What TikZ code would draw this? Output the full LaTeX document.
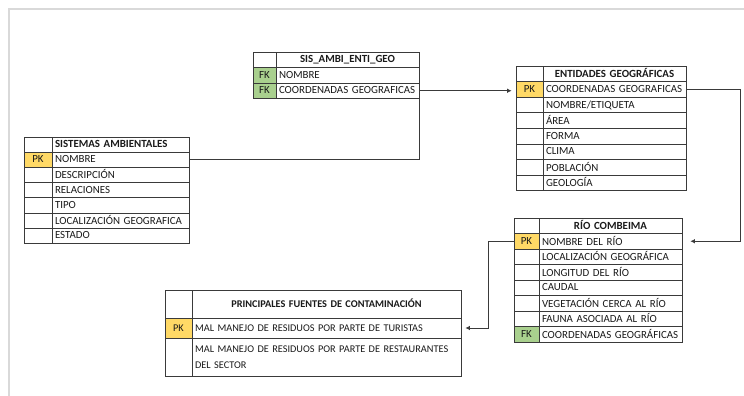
\documentclass[tikz,border=0pt]{standalone}
\usepackage{fontspec}
\setmainfont{Carlito}
\usetikzlibrary{arrows.meta}
\definecolor{pkc}{HTML}{FFD966}
\definecolor{fkc}{HTML}{A9D08E}
\definecolor{linec}{HTML}{3A3A3A}
\definecolor{txtc}{HTML}{1A1A1A}
\definecolor{framec}{HTML}{D9D9D9}
\newcommand\fieldfont{\fontsize{10.9}{16}\selectfont}
\newcommand\smallfieldfont{\fontsize{10.3}{16}\selectfont}
\newcommand\cellstrut{\rule[-1.5pt]{0pt}{9pt}}
\newcommand\tcell[7]{%
  \pgfmathsetmacro\tcW{#4-#2}\pgfmathsetmacro\tcH{#5-#3}\pgfmathsetmacro\tcT{#4-#2-6}%
  \pgfmathsetmacro\tcX{(#2+#4)/2}\pgfmathsetmacro\tcY{(#3+#5)/2}%
  \node[cellbase,#6,minimum width=\tcW pt,minimum height=\tcH pt,text width=\tcT pt] (#1) at (\tcX,\tcY) {\cellstrut#7};}
\tikzset{
  cellbase/.style={draw=linec, line width=0.7pt, inner xsep=3pt, inner ysep=0pt,
    font=\fieldfont, text=txtc, align=left},
  hdr/.style={font=\fieldfont\bfseries, align=center},
  hdrl/.style={font=\fieldfont\bfseries, align=left},
  keyc/.style={align=center},
  pk/.style={fill=pkc, align=center},
  fk/.style={fill=fkc, align=center},
  sm/.style={font=\smallfieldfont},
  smhdr/.style={font=\smallfieldfont\bfseries, align=center},
  conn/.style={draw=linec, line width=0.8pt},
  arr/.style={conn, -{Latex[length=4.5pt,width=4.5pt]}}
}
\begin{document}
\begin{tikzpicture}[x=1pt,y=-1pt]
\useasboundingbox (0,0) rectangle (744,396);
\fill[white] (0,0) rectangle (744,396);
\draw[framec, line width=2pt] (8.5,396) -- (8.5,9.5) -- (744,9.5);

% SIS_AMBI_ENTI_GEO
\tcell{sisHk}{253}{52}{276}{67.5}{keyc}{}
\tcell{sisH}{276}{52}{419}{67.5}{hdr}{SIS\_AMBI\_ENTI\_GEO}
\tcell{sisK1}{253}{67.5}{276}{83}{fk}{FK}
\tcell{sisF1}{276}{67.5}{419}{83}{}{NOMBRE}
\tcell{sisK2}{253}{83}{276}{98.5}{fk}{FK}
\tcell{sisF2}{276}{83}{419}{98.5}{}{COORDENADAS GEOGRAFICAS}

% ENTIDADES GEOGRAFICAS
\tcell{entHk}{516}{66}{543}{81.6}{keyc}{}
\tcell{entH}{543}{66}{686}{81.6}{hdr}{ENTIDADES GEOGRÁFICAS}
\tcell{entK1}{516}{81.6}{543}{97.2}{pk}{PK}
\tcell{entF1}{543}{81.6}{686}{97.2}{}{COORDENADAS GEOGRAFICAS}
\tcell{entK2}{516}{97.2}{543}{112.8}{keyc}{}
\tcell{entF2}{543}{97.2}{686}{112.8}{}{NOMBRE/ETIQUETA}
\tcell{entK3}{516}{112.8}{543}{128.4}{keyc}{}
\tcell{entF3}{543}{112.8}{686}{128.4}{}{ÁREA}
\tcell{entK4}{516}{128.4}{543}{144}{keyc}{}
\tcell{entF4}{543}{128.4}{686}{144}{}{FORMA}
\tcell{entK5}{516}{144}{543}{159.6}{keyc}{}
\tcell{entF5}{543}{144}{686}{159.6}{}{CLIMA}
\tcell{entK6}{516}{159.6}{543}{175.2}{keyc}{}
\tcell{entF6}{543}{159.6}{686}{175.2}{}{POBLACIÓN}
\tcell{entK7}{516}{175.2}{543}{190.8}{keyc}{}
\tcell{entF7}{543}{175.2}{686}{190.8}{}{GEOLOGÍA}

% SISTEMAS AMBIENTALES
\tcell{sysHk}{24}{137}{52}{152.2}{keyc}{}
\tcell{sysH}{52}{137}{189}{152.2}{hdrl}{SISTEMAS AMBIENTALES}
\tcell{sysK1}{24}{152.2}{52}{167.4}{pk}{PK}
\tcell{sysF1}{52}{152.2}{189}{167.4}{}{NOMBRE}
\tcell{sysK2}{24}{167.4}{52}{182.6}{keyc}{}
\tcell{sysF2}{52}{167.4}{189}{182.6}{}{DESCRIPCIÓN}
\tcell{sysK3}{24}{182.6}{52}{197.8}{keyc}{}
\tcell{sysF3}{52}{182.6}{189}{197.8}{}{RELACIONES}
\tcell{sysK4}{24}{197.8}{52}{213}{keyc}{}
\tcell{sysF4}{52}{197.8}{189}{213}{}{TIPO}
\tcell{sysK5}{24}{213}{52}{228.2}{keyc}{}
\tcell{sysF5}{52}{213}{189}{228.2}{}{LOCALIZACIÓN GEOGRAFICA}
\tcell{sysK6}{24}{228.2}{52}{243.4}{keyc}{}
\tcell{sysF6}{52}{228.2}{189}{243.4}{}{ESTADO}

% RIO COMBEIMA
\tcell{rioHk}{514}{218}{539}{233.5}{keyc}{}
\tcell{rioH}{539}{218}{682}{233.5}{hdr}{RÍO COMBEIMA}
\tcell{rioK1}{514}{233.5}{539}{249}{pk}{PK}
\tcell{rioF1}{539}{233.5}{682}{249}{}{NOMBRE DEL RÍO}
\tcell{rioK2}{514}{249}{539}{264.5}{keyc}{}
\tcell{rioF2}{539}{249}{682}{264.5}{}{LOCALIZACIÓN GEOGRÁFICA}
\tcell{rioK3}{514}{264.5}{539}{280}{keyc}{}
\tcell{rioF3}{539}{264.5}{682}{280}{}{LONGITUD DEL RÍO}
\tcell{rioK4}{514}{280}{539}{295.5}{keyc}{}
\tcell{rioF4}{539}{280}{682}{295.5}{}{CAUDAL}
\tcell{rioK5}{514}{295.5}{539}{311}{keyc}{}
\tcell{rioF5}{539}{295.5}{682}{311}{}{VEGETACIÓN CERCA AL RÍO}
\tcell{rioK6}{514}{311}{539}{326.5}{keyc}{}
\tcell{rioF6}{539}{311}{682}{326.5}{}{FAUNA ASOCIADA AL RÍO}
\tcell{rioK7}{514}{326.5}{539}{342}{fk}{FK}
\tcell{rioF7}{539}{326.5}{682}{342}{}{COORDENADAS GEOGRÁFICAS}

% PRINCIPALES FUENTES DE CONTAMINACION
\tcell{prHk}{165}{290}{192}{318}{keyc}{}
\tcell{prH}{192}{290}{461}{318}{smhdr}{PRINCIPALES FUENTES DE CONTAMINACIÓN}
\tcell{prK1}{165}{318}{192}{338}{pk,sm}{PK}
\tcell{prF1}{192}{318}{461}{338}{sm}{MAL MANEJO DE RESIDUOS POR PARTE DE TURISTAS}
\tcell{prK2}{165}{338}{192}{376}{keyc}{}
\tcell{prF2}{192}{338}{461}{376}{sm}{\mbox{MAL MANEJO DE RESIDUOS POR PARTE DE RESTAURANTES}\\DEL SECTOR}

% connectors
\coordinate (rightrail) at (740,0);
\coordinate (leftrail) at (488,0);
\draw[arr] (sisF2.east) -- ([xshift=-4pt]sisF2.east -| entK1.west);
\draw[conn] (sisF2.south east) |- (sysF1.east);
\draw[arr] (entF1.east) -- (entF1.east -| rightrail) |- ([xshift=8pt]rioF1.east);
\draw[arr] (rioK1.west) -- (rioK1.west -| leftrail) |- ([xshift=4pt]prF1.east);
\end{tikzpicture}
\end{document}
